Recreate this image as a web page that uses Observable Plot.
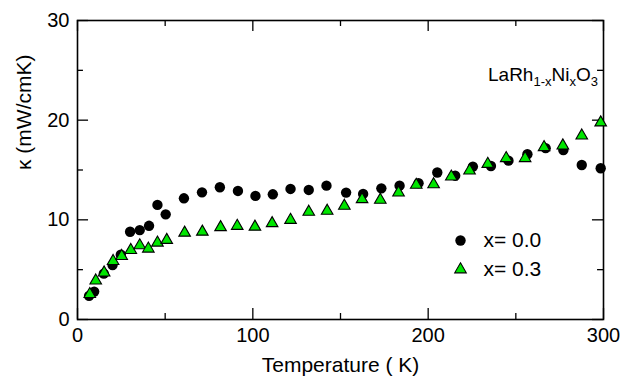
<!DOCTYPE html>
<html>
<head>
<meta charset="utf-8">
<script src="https://cdn.jsdelivr.net/npm/d3@7"></script>
<script src="https://cdn.jsdelivr.net/npm/@observablehq/plot@0.6"></script>
<style>
  html, body { margin: 0; padding: 0; background: #fff; }
  #chart { width: 621px; height: 376px; }
</style>
</head>
<body>
<div id="chart"></div>
<script>
// x = 0.0 (circles)
const tempA = [6.6, 9.5, 15, 20, 24.7, 30, 35.5, 40.8, 45.6, 50.3, 60.7, 71, 81.2, 91.5, 101.5, 111.4, 121.5, 131.9, 142, 153.2, 162.9, 173.3, 183.7, 194.5, 205.2, 215.4, 225.5, 235.8, 245.8, 256.6, 267, 277.1, 287.6, 298.4];
const kappaA = [2.37, 2.8, 4.6, 5.46, 6.5, 8.8, 8.97, 9.4, 11.5, 10.55, 12.16, 12.76, 13.27, 12.9, 12.4, 12.56, 13.1, 13.0, 13.43, 12.73, 12.6, 13.16, 13.43, 13.68, 14.75, 14.43, 15.34, 15.4, 15.94, 16.58, 17.19, 17.0, 15.5, 15.18];
// x = 0.3 (triangles)
const tempB = [7, 10.4, 15.2, 20.3, 25.2, 30.4, 35.5, 40.4, 45.6, 50.9, 61.1, 71.2, 81.6, 91.1, 101.2, 111, 121.5, 131.9, 142.4, 152.2, 162.3, 172.7, 183.1, 193.2, 203.1, 213.2, 223.6, 234, 244.5, 255.3, 266.1, 276.8, 287.6, 298.4];
const kappaB = [2.54, 3.9, 4.7, 5.86, 6.36, 6.96, 7.43, 7.1, 7.7, 7.97, 8.7, 8.8, 9.25, 9.38, 9.3, 9.65, 9.98, 10.8, 10.9, 11.4, 12.06, 12.0, 12.73, 13.5, 13.56, 14.33, 14.93, 15.6, 16.18, 16.18, 17.28, 17.45, 18.45, 19.76];

const seriesLabels = ["x= 0.0", "x= 0.3"];
const xMajor = [0, 100, 200, 300];
const xMinor = [50, 150, 250];
const yMajor = [0, 10, 20, 30];
const yMinor = [5, 15, 25];
const xTitle = "Temperature ( K)";
const yTitle = "κ (mW/cmK)";
const formulaParts = [["LaRh", false], ["1-x", true], ["Ni", false], ["x", true], ["O", false], ["3", true]];

const dataA = tempA.map((t, i) => ({t, k: kappaA[i]}));
const dataB = tempB.map((t, i) => ({t, k: kappaB[i]}));

const green = "#00e600";
const font = "Liberation Sans, Arial, Helvetica, sans-serif";

// tick lengths (in data units, for inward ticks)
const xTickMaj = 1.1, xTickMin = 0.6;   // vertical length in kappa units
const yTickMaj = 6.3, yTickMin = 3.4;   // horizontal length in K units

const chart = Plot.plot({
  width: 621,
  height: 376,
  marginLeft: 77,
  marginRight: 18,
  marginTop: 20,
  marginBottom: 57,
  style: {fontFamily: font, fontSize: "20px", color: "black", background: "white"},
  x: {domain: [0, 300]},
  y: {domain: [0, 30]},
  marks: [
    // inward ticks
    Plot.ruleX(xMajor, {x: d => d, y1: 0, y2: xTickMaj, stroke: "black", strokeWidth: 1.3}),
    Plot.ruleX(xMinor, {x: d => d, y1: 0, y2: xTickMin, stroke: "black", strokeWidth: 1.3}),
    Plot.ruleX(xMajor, {x: d => d, y1: 30, y2: 30 - xTickMaj, stroke: "black", strokeWidth: 1.3}),
    Plot.ruleX(xMinor, {x: d => d, y1: 30, y2: 30 - xTickMin, stroke: "black", strokeWidth: 1.3}),
    Plot.ruleY(yMajor, {y: d => d, x1: 0, x2: yTickMaj, stroke: "black", strokeWidth: 1.3}),
    Plot.ruleY(yMinor, {y: d => d, x1: 0, x2: yTickMin, stroke: "black", strokeWidth: 1.3}),
    Plot.ruleY(yMajor, {y: d => d, x1: 300, x2: 300 - yTickMaj, stroke: "black", strokeWidth: 1.3}),
    Plot.ruleY(yMinor, {y: d => d, x1: 300, x2: 300 - yTickMin, stroke: "black", strokeWidth: 1.3}),
    Plot.axisX({ticks: xMajor, tickSize: 0, tickPadding: 8, fontSize: 20, label: null}),
    Plot.axisY({ticks: yMajor, tickSize: 0, tickPadding: 8, fontSize: 20, label: null}),
    Plot.frame({stroke: "black", strokeWidth: 1.6}),
    // data
    Plot.dot(dataA, {x: "t", y: "k", r: 5.2, fill: "black", stroke: "none"}),
    Plot.dot(dataB, {x: "t", y: "k", r: 4.3, symbol: "triangle", fill: green, stroke: "black", strokeWidth: 1.1}),
    // axis titles
    Plot.text([xTitle], {frameAnchor: "bottom", dy: 46, text: d => d, fontSize: 21, lineAnchor: "middle"}),
    Plot.text([yTitle], {frameAnchor: "left", dx: -53, text: d => d, fontSize: 21, rotate: -90, lineAnchor: "middle"}),
    // legend
    Plot.dot([seriesLabels[0]], {frameAnchor: "top-left", dx: 383, dy: 220, r: 5.2, fill: "black", stroke: "none"}),
    Plot.dot([seriesLabels[1]], {frameAnchor: "top-left", dx: 383, dy: 249, r: 4.3, symbol: "triangle", fill: green, stroke: "black", strokeWidth: 1.1}),
    Plot.text([seriesLabels[0]], {frameAnchor: "top-left", dx: 406, dy: 220, text: d => d, fontSize: 21, textAnchor: "start", lineAnchor: "middle"}),
    Plot.text([seriesLabels[1]], {frameAnchor: "top-left", dx: 406, dy: 249, text: d => d, fontSize: 21, textAnchor: "start", lineAnchor: "middle"})
  ]
});

// compound label with subscripts (relative dy shifts keep one text chunk)
const svg = d3.select(chart);
const t = svg.append("text")
  .attr("x", 488).attr("y", 81)
  .attr("text-anchor", "start")
  .attr("font-family", font).attr("font-size", 19).attr("fill", "black");
let shifted = false;
for (const [s, sub] of formulaParts) {
  let dy = 0;
  if (sub && !shifted) { dy = 5; shifted = true; }
  else if (!sub && shifted) { dy = -5; shifted = false; }
  t.append("tspan")
    .attr("font-size", sub ? 13 : 19)
    .attr("dy", dy)
    .text(s);
}

document.getElementById("chart").appendChild(chart);
</script>
</body>
</html>
